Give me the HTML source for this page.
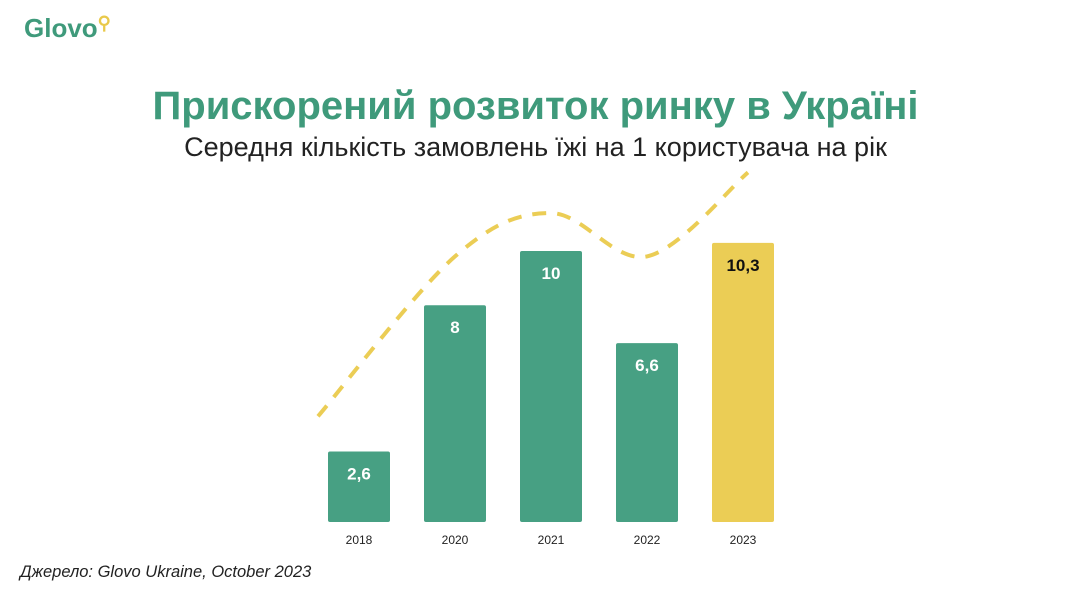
<!DOCTYPE html>
<html><head><meta charset="utf-8"><style>
body{margin:0;width:1071px;height:590px;background:#fff;overflow:hidden;font-family:"Liberation Sans",sans-serif;position:relative}
.logo{position:absolute;left:24px;top:13px;font-size:26px;font-weight:bold;color:#3f9a7b}
h1{position:absolute;left:0;width:1071px;top:84px;margin:0;text-align:center;font-size:40px;font-weight:bold;color:#3f9a7b;white-space:nowrap}
.sub{position:absolute;left:0;width:1071px;top:132px;text-align:center;font-size:27px;color:#222;white-space:nowrap}
.src{position:absolute;left:20px;top:563px;font-size:16.5px;font-style:italic;color:#222}
svg{position:absolute;left:0;top:0}
</style></head><body>
<div class="logo">Glovo<span style="color:#e9c94a;font-size:18px;vertical-align:top">&#9906;</span></div>
<h1>Прискорений розвиток ринку в Україні</h1>
<div class="sub">Середня кількість замовлень їжі на 1 користувача на рік</div>
<div class="src">Джерело: Glovo Ukraine, October 2023</div>
<svg id="c" width="1071" height="590"></svg>
<script>
const categories=["2018","2020","2021","2022","2023"];
const values=[2.6,8,10,6.6,10.3];
const labels=["2,6","8","10","6,6","10,3"];
const trend=[3.9,9.8,11.4,9.8,12.9];
const NS="http://www.w3.org/2000/svg",svg=document.getElementById("c");
const base=522,scale=27.1,x0=359,step=96,bw=62;
const xc=i=>x0+i*step, y=v=>base-v*scale;
function mk(t,a){const e=document.createElementNS(NS,t);for(const k in a)e.setAttribute(k,a[k]);svg.appendChild(e);return e;}
categories.forEach((c,i)=>{
 const last=i===categories.length-1;
 const r=mk("rect",{x:xc(i)-bw/2,y:y(values[i]),width:bw,height:values[i]*scale,fill:last?"#ebcd55":"#47a083",rx:2});
 
 
 const t=mk("text",{x:xc(i),y:y(values[i])+28,"text-anchor":"middle","font-size":"17","font-weight":"bold",fill:last?"#111":"#fff"});
 t.textContent=labels[i];
 
 
 const l=mk("text",{x:xc(i),y:544,"text-anchor":"middle","font-size":"12",fill:"#222"});
 l.textContent=c;
 
 
});
const pts=trend.map((v,i)=>[xc(i)+(i===0?-41:0)+(i===4?5:0),y(v)]);
let d="M"+pts[0].join(",");
for(let i=0;i<pts.length-1;i++){const p0=pts[Math.max(0,i-1)],p1=pts[i],p2=pts[i+1],p3=pts[Math.min(pts.length-1,i+2)];
 d+=` C${p1[0]+(p2[0]-p0[0])/6},${p1[1]+(p2[1]-p0[1])/6} ${p2[0]-(p3[0]-p1[0])/6},${p2[1]-(p3[1]-p1[1])/6} ${p2[0]},${p2[1]}`;}
const tl=mk("path",{d,fill:"none",stroke:"#ebcd55","stroke-width":4,"stroke-dasharray":"14 11"});


</script>
</body></html>
